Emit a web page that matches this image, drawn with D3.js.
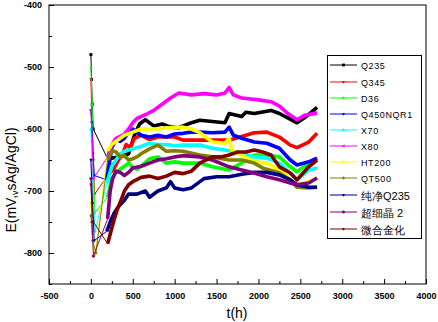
<!DOCTYPE html>
<html>
<head>
<meta charset="utf-8">
<script src="https://cdn.jsdelivr.net/npm/d3@7"></script>
<style>
  html, body { margin: 0; padding: 0; background: #fff; }
  svg { display: block; }
  text { font-family: "Liberation Sans", Arial, sans-serif; }
</style>
</head>
<body>
<svg id="chart" width="438" height="322"></svg>
<script>
// Open-circuit potential vs. time for eleven steels
const seriesNames = ["Q235", "Q345", "D36", "Q450NQR1", "X70", "X80", "HT200", "QT500", "纯净Q235", "超细晶 2", "微合金化"];
const seriesColors = ["#000000", "#ff0000", "#00ff00", "#0000ff", "#00ffff", "#ff00ff", "#ffff00", "#808000", "#000080", "#800080", "#800000"];
const seriesSymbols = ["square", "triDown", "triUp", "triDown", "diamond", "triLeft", "triRight", "diamond", "triDown", "circle", "triDown"];

// first hours of immersion: [t (h), E (mV)]
const earlyQ235 = [[0, -480], [8, -520], [16, -560], [28, -600], [200, -648]];
const earlyQ345 = [[0, -520], [15, -600], [30, -650], [45, -705], [200, -675]];
const earlyD36 = [[0, -500], [15, -560], [30, -650], [45, -735], [200, -710]];
const earlyQ450 = [[0, -570], [10, -590], [25, -640], [40, -675], [190, -682]];
const earlyX70 = [[0, -600], [20, -680], [50, -765], [190, -687]];
const earlyX80 = [[0, -570], [15, -620], [30, -680], [200, -645]];
const earlyHT200 = [[0, -720], [20, -770], [50, -805], [200, -635]];
const earlyQT500 = [[0, -740], [20, -780], [60, -800], [200, -650]];
const earlyPureQ235 = [[0, -650], [20, -720], [40, -780], [190, -765]];
const earlyUltrafine = [[0, -680], [15, -750], [30, -805], [200, -745]];
const earlyMicroalloy = [[0, -690], [15, -720], [30, -750], [200, -785]];

// long-term potential: [t (h), E (mV)]
const mainQ235 = [[200, -648], [350, -645], [450, -640], [520, -610], [580, -592], [650, -585], [750, -595], [850, -592], [950, -597], [1050, -598], [1100, -595], [1200, -590], [1300, -586], [1450, -588], [1600, -590], [1650, -575], [1800, -580], [1850, -573], [1950, -575], [2150, -570], [2250, -575], [2350, -582], [2460, -590], [2550, -582], [2700, -565]];
const mainQ345 = [[200, -675], [270, -665], [330, -650], [380, -640], [420, -625], [470, -630], [520, -615], [600, -610], [700, -617], [800, -613], [1000, -613], [1100, -618], [1300, -618], [1500, -618], [1650, -618], [1800, -612], [1950, -606], [2100, -605], [2250, -613], [2380, -626], [2460, -630], [2600, -621], [2700, -607]];
const mainD36 = [[200, -710], [250, -680], [300, -670], [350, -665], [400, -660], [450, -655], [500, -662], [550, -665], [600, -660], [700, -648], [800, -645], [850, -650], [900, -655], [1000, -653], [1100, -655], [1300, -655], [1450, -661], [1650, -666], [1800, -655], [1950, -642], [2100, -642], [2250, -645], [2380, -661], [2460, -669], [2600, -655], [2700, -650]];
const mainQ450 = [[190, -682], [250, -630], [300, -617], [350, -620], [400, -615], [450, -605], [500, -600], [600, -610], [700, -613], [800, -610], [900, -613], [1000, -608], [1100, -607], [1200, -605], [1300, -605], [1450, -606], [1600, -605], [1650, -597], [1700, -610], [1800, -615], [1950, -621], [2100, -623], [2250, -631], [2380, -650], [2460, -658], [2600, -653], [2700, -647]];
const mainX70 = [[190, -687], [250, -660], [300, -650], [350, -640], [400, -636], [500, -632], [600, -628], [700, -623], [800, -625], [900, -625], [1000, -627], [1100, -626], [1300, -626], [1450, -631], [1600, -634], [1800, -639], [1950, -645], [2100, -647], [2250, -655], [2380, -671], [2460, -682], [2600, -666], [2700, -663]];
const mainX80 = [[200, -645], [250, -625], [300, -615], [350, -612], [400, -608], [450, -600], [500, -590], [550, -583], [650, -577], [750, -570], [850, -560], [950, -550], [1050, -542], [1200, -545], [1350, -543], [1500, -545], [1600, -542], [1650, -533], [1700, -545], [1800, -550], [2000, -553], [2150, -556], [2250, -563], [2350, -575], [2460, -585], [2550, -578], [2700, -574]];
const mainHT200 = [[200, -635], [250, -625], [300, -620], [350, -615], [400, -610], [500, -605], [600, -600], [700, -600], [800, -600], [900, -598], [1000, -598], [1100, -597], [1200, -600], [1300, -606], [1450, -621], [1600, -623], [1650, -615], [1680, -634], [1800, -642], [1950, -653], [2100, -655], [2250, -666], [2380, -682], [2460, -690], [2600, -685], [2700, -679]];
const mainQT500 = [[200, -650], [250, -635], [300, -637], [350, -645], [400, -643], [450, -650], [500, -648], [550, -645], [600, -640], [700, -632], [800, -626], [900, -636], [1000, -635], [1100, -636], [1300, -642], [1450, -645], [1650, -650], [1800, -650], [1950, -655], [2050, -663], [2250, -671], [2380, -682], [2460, -694], [2600, -695], [2700, -694]];
const mainPureQ235 = [[190, -765], [230, -750], [280, -735], [330, -725], [400, -715], [450, -705], [550, -705], [650, -700], [700, -710], [800, -700], [900, -695], [950, -685], [1000, -695], [1100, -698], [1200, -695], [1350, -680], [1500, -677], [1650, -677], [1800, -673], [1950, -670], [2100, -670], [2250, -674], [2380, -682], [2460, -690], [2600, -694], [2700, -694]];
const mainUltrafine = [[200, -745], [230, -700], [260, -680], [300, -668], [350, -670], [400, -675], [450, -670], [500, -663], [600, -660], [700, -655], [800, -650], [900, -648], [1000, -645], [1100, -643], [1300, -645], [1450, -650], [1650, -661], [1800, -666], [1950, -671], [2100, -677], [2250, -682], [2380, -687], [2460, -690], [2600, -687], [2700, -679]];
const mainMicroalloy = [[200, -785], [240, -765], [280, -745], [320, -728], [360, -715], [400, -700], [450, -690], [500, -685], [600, -678], [700, -676], [800, -680], [900, -676], [1000, -670], [1100, -672], [1200, -668], [1300, -655], [1450, -645], [1550, -645], [1650, -642], [1750, -637], [1850, -637], [1950, -634], [2050, -637], [2150, -642], [2250, -661], [2380, -671], [2460, -682], [2600, -661], [2700, -650]];

const earlyData = [earlyQ235, earlyQ345, earlyD36, earlyQ450, earlyX70, earlyX80, earlyHT200, earlyQT500, earlyPureQ235, earlyUltrafine, earlyMicroalloy];
const mainData = [mainQ235, mainQ345, mainD36, mainQ450, mainX70, mainX80, mainHT200, mainQT500, mainPureQ235, mainUltrafine, mainMicroalloy];

const xTicks = [-500, 0, 500, 1000, 1500, 2000, 2500, 3000, 3500, 4000];
const yTicks = [-400, -500, -600, -700, -800];

const svg = d3.select("#chart");
const plot = { left: 49, top: 5, right: 426, bottom: 284 };

const x = d3.scaleLinear().domain([-500, 4000]).range([plot.left, plot.right]);
const y = d3.scaleLinear().domain([-850, -400]).range([plot.bottom, plot.top]);

const line = d3.line().x(d => x(d[0])).y(d => y(d[1])).curve(d3.curveLinear);

// clip everything to the frame
svg.append("clipPath").attr("id", "clip")
  .append("rect").attr("x", plot.left).attr("y", plot.top)
  .attr("width", plot.right - plot.left).attr("height", plot.bottom - plot.top);

function symbolPath(kind, s) {
  switch (kind) {
    case "square": return `M${-s},${-s}h${2 * s}v${2 * s}h${-2 * s}Z`;
    case "triUp": return `M0,${-s * 1.2}L${s * 1.1},${s * 0.8}L${-s * 1.1},${s * 0.8}Z`;
    case "triDown": return `M0,${s * 1.2}L${s * 1.1},${-s * 0.8}L${-s * 1.1},${-s * 0.8}Z`;
    case "triLeft": return `M${-s * 1.2},0L${s * 0.8},${-s * 1.1}L${s * 0.8},${s * 1.1}Z`;
    case "triRight": return `M${s * 1.2},0L${-s * 0.8},${-s * 1.1}L${-s * 0.8},${s * 1.1}Z`;
    case "diamond": return `M0,${-s * 1.3}L${s * 1.1},0L0,${s * 1.3}L${-s * 1.1},0Z`;
    default: return d3.symbol().type(d3.symbolCircle).size(s * s * 3.5)();
  }
}

const g = svg.append("g").attr("clip-path", "url(#clip)");

// early thin traces with markers
earlyData.forEach((pts, i) => {
  g.append("path").datum(pts)
    .attr("d", line).attr("fill", "none")
    .attr("stroke", seriesColors[i]).attr("stroke-width", 1);
  g.selectAll(null).data(pts.slice(0, -1)).enter().append("path")
    .attr("transform", d => `translate(${x(d[0])},${y(d[1])})`)
    .attr("d", symbolPath(seriesSymbols[i], 1.5))
    .attr("fill", seriesColors[i]);
});

// densely sampled long-term traces
mainData.forEach((pts, i) => {
  g.append("path").datum(pts)
    .attr("d", line).attr("fill", "none")
    .attr("stroke", seriesColors[i]).attr("stroke-width", 3.6)
    .attr("stroke-linejoin", "round");
});

// frame
svg.append("rect").attr("x", plot.left).attr("y", plot.top)
  .attr("width", plot.right - plot.left).attr("height", plot.bottom - plot.top)
  .attr("fill", "none").attr("stroke", "#000").attr("stroke-width", 1);

// axes with inward ticks; plain hyphen for negative labels
const fmt = d => String(d);
const xAxis = d3.axisBottom(x).tickValues(xTicks).tickSize(-5).tickPadding(9).tickFormat(fmt);
const xMinor = d3.axisBottom(x).tickValues(d3.range(-250, 4000, 500)).tickSize(-3).tickFormat("");
const yAxis = d3.axisLeft(y).tickValues(yTicks).tickSize(-5).tickPadding(7).tickFormat(fmt);
const yMinor = d3.axisLeft(y).tickValues([-450, -550, -650, -750, -850]).tickSize(-3).tickFormat("");

function styleAxis(sel) {
  sel.select(".domain").remove();
  sel.selectAll("line").attr("stroke", "#000");
  sel.selectAll("text").attr("font-size", 9).attr("font-weight", "bold").attr("fill", "#000")
    .attr("font-family", "'Liberation Sans', Arial, sans-serif");
}

svg.append("g").attr("transform", `translate(0,${plot.bottom})`).call(xAxis).call(styleAxis);
svg.append("g").attr("transform", `translate(0,${plot.bottom})`).call(xMinor).call(styleAxis);
svg.append("g").attr("transform", `translate(${plot.left},0)`).call(yAxis).call(styleAxis);
svg.append("g").attr("transform", `translate(${plot.left},0)`).call(yMinor).call(styleAxis);

// axis titles
svg.append("text").attr("x", 237).attr("y", 318)
  .attr("text-anchor", "middle").attr("font-size", 14).text("t(h)");

const yt = svg.append("text")
  .attr("transform", `translate(16,180) rotate(-90)`)
  .attr("text-anchor", "middle").attr("font-size", 14);
yt.append("tspan").text("E(mV,");
yt.append("tspan").attr("font-size", 9).attr("dy", 2).text("v");
yt.append("tspan").attr("dy", -2).text("sAg/AgCl)");

// legend
const legend = svg.append("g");
legend.append("rect").attr("x", 327.5).attr("y", 55.5).attr("width", 94).attr("height", 183)
  .attr("fill", "#fff").attr("stroke", "#000").attr("stroke-width", 1);
const legendY = [65, 82, 98, 114, 130, 146, 162, 178, 195, 212, 229];
seriesNames.forEach((name, i) => {
  const ly = legendY[i];
  legend.append("line").attr("x1", 330).attr("x2", 357).attr("y1", ly).attr("y2", ly)
    .attr("stroke", seriesColors[i]).attr("stroke-width", 1);
  legend.append("path").attr("transform", `translate(343.5,${ly})`)
    .attr("d", symbolPath(seriesSymbols[i], 1.4)).attr("fill", seriesColors[i]);
  const cjk = /[\u4e00-\u9fff]/.test(name);
  legend.append("text").attr("x", 361).attr("y", ly + (cjk ? 4.5 : 3.5))
    .attr("font-size", cjk ? 11 : 9)
    .attr("font-family", cjk ? "'Noto Sans CJK SC', sans-serif" : "'Liberation Sans', Arial, sans-serif")
    .attr("letter-spacing", cjk ? 0 : 0.6)
    .text(name);
});
</script>
</body>
</html>
